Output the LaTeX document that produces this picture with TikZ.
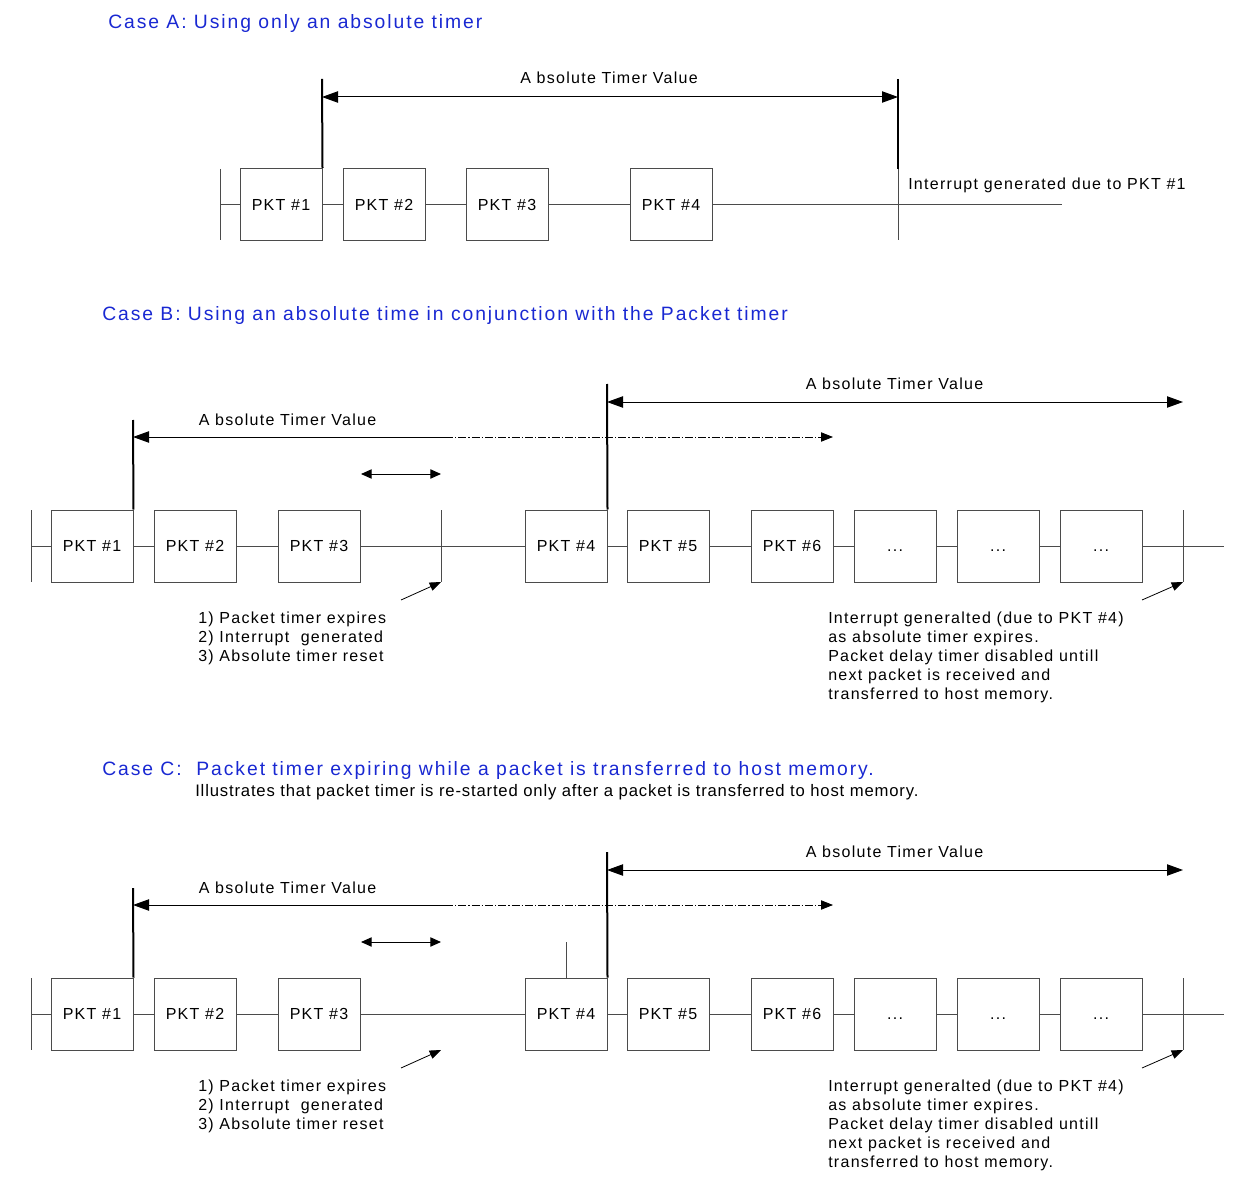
\documentclass[tikz,border=0pt]{standalone}
\usepackage{fontspec}
\setmainfont{Liberation Sans}
\newfontfamily\lblfont[LetterSpace=8]{Liberation Sans}
\newfontfamily\ttlfont[LetterSpace=10]{Liberation Sans}
\newfontfamily\subfont[LetterSpace=5]{Liberation Sans}
\usetikzlibrary{arrows.meta}
\definecolor{ttlblue}{RGB}{25,40,210}
\definecolor{lngray}{RGB}{75,75,75}
\tikzset{
 pkt/.style={draw=lngray, line width=0.75pt, fill=white, minimum width=61.5pt, minimum height=54pt, inner sep=0pt, font=\lblfont\fontsize{12}{14}\selectfont},
 lbl/.style={inner sep=0pt, font=\lblfont\fontsize{12}{14.25}\selectfont, align=left},
 ttl/.style={inner sep=0pt, text=ttlblue, font=\ttlfont\fontsize{14.5}{17}\selectfont},
 subttl/.style={inner sep=0pt, font=\subfont\fontsize{12.5}{14}\selectfont},
 wire/.style={draw=lngray, line width=0.75pt},
 tmark/.style={draw=black, line width=1.5pt},
 tspan/.style={draw=black, line width=0.75pt, {Triangle[length=12pt,width=8.5pt]}-{Triangle[length=12pt,width=8.5pt]}},
 lspan/.style={draw=black, line width=0.75pt, {Triangle[length=12pt,width=8.5pt]}-},
 dspan/.style={draw=black, line width=0.6pt, dash pattern=on 6pt off 1.5pt on 1pt off 1.5pt, -{Triangle[length=9pt,width=7pt]}},
 sspan/.style={draw=black, line width=0.75pt, {Triangle[length=8pt,width=7pt]}-{Triangle[length=8pt,width=7pt]}},
 pointer/.style={draw=black, line width=0.6pt, -{Triangle[length=8.5pt,width=6.5pt]}},
}
\begin{document}
\begin{tikzpicture}[x=0.75pt,y=-0.75pt]
\useasboundingbox (0,0) rectangle (1238,1180);

% ================= Case A =================
\node[ttl, anchor=base west] (tA) at (108,29) {Case A: Using only an absolute timer};
\foreach \i/\xx in {1/281,2/384,3/507,4/671}
  \node[pkt] (a\i) at (\xx,204.5) {PKT \#\i};
\coordinate (aLt) at (220,169); \coordinate (aLb) at (220,240); \coordinate (aL) at (220,204.5);
\coordinate (aR) at (1062,204.5);
\coordinate (aXt) at (898,79); \coordinate (aXm) at (898,169); \coordinate (aXb) at (898,240);
\coordinate (aSt) at (322,79);
\coordinate (aS1) at (322,97); \coordinate (aS2) at (898,97);
\draw[wire] (aLt) -- (aLb);
\draw[wire] (aL) -- (a1.west);
\foreach \i/\j in {1/2,2/3,3/4} \draw[wire] (a\i.east) -- (a\j.west);
\draw[wire] (a4.east) -- (aR);
\draw[wire] (aXm) -- (aXb);
\draw[tmark] (aXt) -- (aXm);
\draw[tmark] (a1.north east) -- (aSt);
\draw[tspan] (aS1) -- (aS2);
\node[lbl, anchor=base] (aV) at (609,83.5) {A bsolute Timer Value};
\node[lbl, anchor=base west] (aI) at (908,189.5) {Interrupt generated due to PKT \#1};

% ================= Case B =================
\node[ttl, anchor=base west] (tB) at (102,321) {Case B: Using an absolute time in conjunction with the Packet timer};
\foreach \i/\xx in {1/92,2/195,3/319,4/566,5/668,6/792}
  \node[pkt] (b\i) at (\xx,546) {PKT \#\i};
\foreach \i/\xx in {7/895,8/998,9/1101}
  \node[pkt] (b\i) at (\xx,546) {\vphantom{PKT}...};
\coordinate (bLt) at (31,510); \coordinate (bLb) at (31,582); \coordinate (bL) at (31,546);
\coordinate (bR) at (1224,546);
\draw[wire] (bLt) -- (bLb);
\draw[wire] (bL) -- (b1.west);
\foreach \i/\j in {1/2,2/3,3/4,4/5,5/6,6/7,7/8,8/9} \draw[wire] (b\i.east) -- (b\j.west);
\draw[wire] (b9.east) -- (bR);
\coordinate (bMt) at (441,510); \coordinate (bMb) at (441,582);
\coordinate (bNt) at (1183,510); \coordinate (bNb) at (1183,582);
\draw[wire] (bMt) -- (bMb);
\draw[wire] (bNt) -- (bNb);
\coordinate (bT1) at (133,420); \coordinate (bT4) at (607,384);
\draw[tmark] (b1.north east) -- (bT1);
\draw[tmark] (b4.north east) -- (bT4);
\coordinate (bA1) at (133,437); \coordinate (bA2) at (445,437); \coordinate (bA3) at (833,437);
\draw[lspan] (bA1) -- (bA2);
\draw[dspan] (bA2) -- (bA3);
\coordinate (bB1) at (607,402); \coordinate (bB2) at (1183,402);
\draw[tspan] (bB1) -- (bB2);
\node[lbl, anchor=base] (bV1) at (287.5,425.5) {A bsolute Timer Value};
\node[lbl, anchor=base] (bV2) at (894.5,389.5) {A bsolute Timer Value};
\coordinate (bS1) at (361,474); \coordinate (bS2) at (441,474);
\draw[sspan] (bS1) -- (bS2);
\coordinate (bP1) at (401,600);
\coordinate (bP2) at (1142,600);
\draw[pointer] (bP1) -- (bMb);
\draw[pointer] (bP2) -- (bNb);
\node[lbl, anchor=base west] (bX1) at (198,661.5) {1) Packet timer expires\\2) Interrupt\ \ generated\\3) Absolute timer reset};
\node[lbl, anchor=base west] (bX2) at (828,699.5) {Interrupt generalted (due to PKT \#4)\\as absolute timer expires.\\Packet delay timer disabled untill\\next packet is received and\\transferred to host memory.};

% ================= Case C =================
\node[ttl, anchor=base west] (tC) at (102,775) {Case C:\ \ Packet timer expiring while a packet is transferred to host memory.};
\node[subttl, anchor=base west] (tC2) at (195,796) {Illustrates that packet timer is re-started only after a packet is transferred to host memory.};
\foreach \i/\xx in {1/92,2/195,3/319,4/566,5/668,6/792}
  \node[pkt] (c\i) at (\xx,1014) {PKT \#\i};
\foreach \i/\xx in {7/895,8/998,9/1101}
  \node[pkt] (c\i) at (\xx,1014) {\vphantom{PKT}...};
\coordinate (cLt) at (31,978); \coordinate (cLb) at (31,1050); \coordinate (cL) at (31,1014);
\coordinate (cR) at (1224,1014);
\draw[wire] (cLt) -- (cLb);
\draw[wire] (cL) -- (c1.west);
\foreach \i/\j in {1/2,2/3,3/4,4/5,5/6,6/7,7/8,8/9} \draw[wire] (c\i.east) -- (c\j.west);
\draw[wire] (c9.east) -- (cR);
\coordinate (cMb) at (441,1050);
\coordinate (cNt) at (1183,978); \coordinate (cNb) at (1183,1050);
\draw[wire] (cNt) -- (cNb);
\coordinate (cG) at (566,942);
\draw[wire] (c4.north) -- (cG);
\coordinate (cT1) at (133,888); \coordinate (cT4) at (607,852);
\draw[tmark] (c1.north east) -- (cT1);
\draw[tmark] (c4.north east) -- (cT4);
\coordinate (cA1) at (133,905); \coordinate (cA2) at (445,905); \coordinate (cA3) at (833,905);
\draw[lspan] (cA1) -- (cA2);
\draw[dspan] (cA2) -- (cA3);
\coordinate (cB1) at (607,870); \coordinate (cB2) at (1183,870);
\draw[tspan] (cB1) -- (cB2);
\node[lbl, anchor=base] (cV1) at (287.5,893.5) {A bsolute Timer Value};
\node[lbl, anchor=base] (cV2) at (894.5,857.5) {A bsolute Timer Value};
\coordinate (cS1) at (361,942); \coordinate (cS2) at (441,942);
\draw[sspan] (cS1) -- (cS2);
\coordinate (cP1) at (401,1068);
\coordinate (cP2) at (1142,1068);
\draw[pointer] (cP1) -- (cMb);
\draw[pointer] (cP2) -- (cNb);
\node[lbl, anchor=base west] (cX1) at (198,1129.5) {1) Packet timer expires\\2) Interrupt\ \ generated\\3) Absolute timer reset};
\node[lbl, anchor=base west] (cX2) at (828,1167.5) {Interrupt generalted (due to PKT \#4)\\as absolute timer expires.\\Packet delay timer disabled untill\\next packet is received and\\transferred to host memory.};
\end{tikzpicture}
\end{document}
